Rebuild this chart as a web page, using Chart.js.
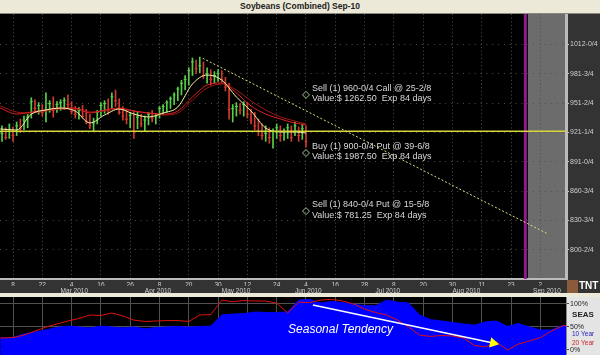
<!DOCTYPE html>
<html lang="en">
<head>
<meta charset="UTF-8">
<title>Soybeans (Combined) Sep-10</title>
<script src="https://cdn.jsdelivr.net/npm/chart.js"></script>
<style>
    body { margin: 0; background: #000; width: 600px; height: 355px; overflow: hidden; position: relative; }
    #title { position: absolute; left: 0; top: 0; width: 600px; height: 13px; background: #ece9d8; border-bottom: 1px solid #8a8a80;
             font: bold 8.5px "Liberation Sans", Arial, sans-serif; color: #222; text-align: center; line-height: 13px; }
    #priceWrap { position: absolute; left: 0; top: 14px; width: 600px; height: 279px; }
    #sep { position: absolute; left: 0; top: 293px; width: 600px; height: 4px; background: #ece9d8; }
    #seasWrap { position: absolute; left: 0; top: 297px; width: 600px; height: 58px; }
</style>
</head>
<body>
<div id="title">Soybeans (Combined) Sep-10</div>
<div id="priceWrap"><canvas id="priceChart" width="600" height="279"></canvas></div>
<div id="sep"></div>
<div id="seasWrap"><canvas id="seasChart" width="600" height="58"></canvas></div>

<script>
// ---- time axis (trading-day index) ----
const xMin = -3.55, xMax = 151.0;
const dayTickIdx = [0, 8, 16, 24, 32, 40, 48, 56, 64, 72, 80, 88, 96, 104, 112, 120, 128, 136, 144];
const dayLabels = ['8', '22', '4', '16', '26', '8', '20', '30', '12', '24', '4', '16', '28', '8', '20', '30', '11', '23', '2'];
const monthIdx = [13, 36, 57, 77, 99, 120, 142];
const monthLabels = ['Mar 2010', 'Apr 2010', 'May 2010', 'Jun 2010', 'Jul 2010', 'Aug 2010', 'Sep 2010'];
const expiryIdx = 139.9;
const shadeFromIdx = 140.6;

// ---- price axis ----
const yMin = 769.9, yMax = 1043.5;
const priceTicks = [1012, 981.75, 951.5, 921.25, 891, 860.75, 830.5, 800.25];
const priceTickLabels = ['1012-0/4', '981-3/4', '951-2/4', '921-1/4', '891-0/4', '860-3/4', '830-3/4', '800-2/4'];

// ---- daily bars, first bar at index -3 ----
const barStart = -3;
const highs = [928, 926, 930, 927, 932, 935, 938, 940, 957, 955, 952, 950, 962, 954, 958, 953, 955, 957, 960, 953,
    948, 947, 949, 945, 940, 936, 944, 952, 954, 956, 962, 965, 956, 948, 944, 942, 944, 942, 940, 938,
    942, 944, 941, 948, 950, 954, 958, 962, 968, 975, 980, 988, 998, 996, 999, 994, 988, 986, 984, 986,
    985, 978, 972, 950, 952, 951, 953, 952, 945, 942, 935, 930, 928, 926, 925, 930, 928, 925, 930, 928,
    932, 927, 930, 928];
const lows = [912, 914, 915, 912, 918, 921, 924, 926, 936, 942, 940, 938, 932, 942, 937, 942, 944, 945, 946, 940,
    936, 935, 936, 930, 925, 922, 930, 938, 941, 940, 946, 948, 940, 934, 930, 926, 915, 925, 927, 922,
    929, 932, 930, 936, 940, 942, 946, 950, 954, 960, 965, 970, 980, 982, 983, 977, 972, 970, 972, 974,
    973, 964, 935, 932, 938, 940, 938, 936, 930, 924, 918, 914, 912, 910, 905, 915, 912, 913, 915, 912,
    918, 912, 914, 906];
const closes = [920, 916, 924, 918, 928, 925, 934, 937, 953, 946, 949, 942, 945, 951, 944, 950, 952, 954, 950, 943,
    940, 944, 938, 933, 928, 931, 942, 949, 951, 944, 958, 954, 942, 938, 935, 939, 922, 937, 930, 934,
    940, 936, 938, 946, 948, 952, 956, 960, 966, 972, 976, 985, 994, 987, 990, 980, 982, 976, 980, 982,
    976, 968, 945, 946, 948, 944, 950, 940, 934, 928, 922, 918, 920, 916, 922, 926, 918, 922, 926, 916,
    928, 918, 925, 912];

// ---- moving averages, read every few bars ----
const maIdx = [-3.5, 1, 5, 9, 13, 17, 21, 25, 29, 33, 37, 41, 45, 49, 53, 57, 61, 65, 69, 73, 77, 80];
const maFast = [924.8, 923.7, 940.2, 944.4, 946.4, 943.3, 931.0, 939.2, 945.4, 940.2, 937.2, 941.3, 947.5, 971.2, 980.5, 975.3, 957.8, 943.3, 925.8, 921.7, 921.7, 920.6];
const maMid = [946.4, 940.2, 942.3, 944.4, 946.4, 946.4, 941.3, 944.4, 946.4, 943.3, 941.3, 940.2, 943.3, 957.8, 970.2, 972.3, 962.0, 948.5, 940.2, 935.1, 930.9, 928.9];
const maSlow = [948.5, 942.3, 941.3, 943.3, 945.4, 945.4, 942.3, 943.3, 945.4, 943.3, 941.3, 939.2, 941.3, 954.7, 967.1, 971.2, 965.0, 953.7, 944.4, 937.2, 933.0, 929.9];

// ---- drawn studies ----
const lastLevel = 922.5;
const trendIdx = [51.8, 145.7];
const trendPrice = [997.8, 817.1];
const optionIdx = 80;
const optionStrikes = [960, 900, 840];
const optionTitles = ['Sell (1) 960-0/4 Call @ 25-2/8', 'Buy (1) 900-0/4 Put @ 39-6/8', 'Sell (1) 840-0/4 Put @ 15-5/8'];
const optionValues = ['Value:$ 1262.50  Exp 84 days', 'Value:$ 1987.50  Exp 84 days', 'Value:$ 781.25  Exp 84 days'];

// ---- seasonal panel (percent) ----
const seasIdx = [-3.5, 0, 3, 6, 9, 12, 15, 18, 21, 24, 27, 30, 33, 36, 39, 42, 45, 48, 51, 54, 57, 60, 63, 66, 69, 72,
    75, 78, 81, 84, 87, 90, 93, 96, 99, 102, 105, 108, 111, 114, 117, 120, 123, 126, 129, 132, 135, 138, 141, 144, 147, 150, 151];
const seas10 = [26, 27, 35, 39, 43.5, 49, 52, 50, 48, 52, 50, 48, 50, 46, 49, 50, 51, 50, 51, 52, 76, 78, 79, 82.5, 81.5, 81.5,
    82.5, 108.5, 110, 102, 105.5, 103, 100, 96, 96, 108.5, 104, 102, 76, 66, 63, 60, 56.5, 54, 61, 63, 51, 57.5, 50, 43.5, 43.5, 53, 54];
const seas20 = [26, 27, 32.5, 41, 50, 56.5, 63, 68.5, 76, 75, 80.5, 74, 65, 62, 63, 64, 64, 62, 76, 77, 108.5, 105, 107.5, 106.5, 106.5, 102,
    80.5, 104, 103, 108.5, 110, 106.5, 100, 89, 81.5, 76, 65, 50, 32.5, 29.5, 31.5, 30.5, 26, 10, 6.5, 17.5, 0, 13, 19.5, 27, 41, 52, 54];
const seasTicks = [0, 50, 100];
const seasTickLabels = ['0%', '50%', '100%'];
const arrowIdx = [81.9, 131.1];
const arrowVal = [97.8, 15.2];
const seasTextIdx = 75.1, seasTextVal = 43.5;

const FONT = '"Liberation Sans", Arial, sans-serif';
Chart.defaults.font.family = FONT;

const GREEN = '#56d04a', RED = '#d23a2e';
const barColors = closes.map((c, k) => (k > 0 && c < closes[k - 1]) ? RED : GREEN);
const pts = (xs, ys) => xs.map((v, k) => ({ x: v, y: ys[k] }));

const pricePanel = {
    id: 'pricePanel',
    beforeDraw(chart) {
        const { ctx, chartArea: a, scales: { x } } = chart;
        ctx.save();
        ctx.fillStyle = '#000';
        ctx.fillRect(0, 0, chart.width, chart.height);
        ctx.fillStyle = '#333';
        ctx.fillRect(a.right, 0, chart.width - a.right, chart.height);
        ctx.fillRect(0, a.bottom, chart.width, chart.height - a.bottom);
        const sx = x.getPixelForValue(shadeFromIdx);
        ctx.fillStyle = '#6c6c6c';
        ctx.fillRect(sx, a.top, a.right - sx, a.bottom - a.top);
        ctx.restore();
    },
    beforeDatasetsDraw(chart) {
        const { ctx, chartArea: a, scales: { x } } = chart;
        const px = x.getPixelForValue(expiryIdx);
        ctx.save();
        ctx.strokeStyle = '#8e1a8e';
        ctx.lineWidth = 3;
        ctx.beginPath();
        ctx.moveTo(px, a.top);
        ctx.lineTo(px, a.bottom);
        ctx.stroke();
        ctx.restore();
    },
    afterDatasetsDraw(chart) {
        const { ctx, scales: { x, y } } = chart;
        ctx.save();
        ctx.font = '9px ' + FONT;
        ctx.fillStyle = '#d8d8d8';
        ctx.textBaseline = 'middle';
        optionStrikes.forEach((s, k) => {
            const px = x.getPixelForValue(optionIdx) + 6;
            const py = y.getPixelForValue(s);
            ctx.fillText(optionTitles[k], px, py - 6.5);
            ctx.fillText(optionValues[k], px, py + 4);
        });
        ctx.restore();
    },
    afterDraw(chart) {
        const { ctx, chartArea: a } = chart;
        ctx.save();
        ctx.fillStyle = '#8a5a3a';
        ctx.fillRect(a.right + 1, a.bottom + 1, 11, 13);
        ctx.font = 'bold 10px ' + FONT;
        ctx.fillStyle = '#fff';
        ctx.textBaseline = 'middle';
        ctx.fillText('TNT', a.right + 13, a.bottom + 7.5);
        ctx.restore();
    }
};

new Chart(document.getElementById('priceChart'), {
    type: 'bar',
    data: {
        datasets: [
            { type: 'scatter', data: optionStrikes.map(s => ({ x: optionIdx, y: s })), pointStyle: 'rectRot',
              pointRadius: 3.5, borderColor: '#a0c890', backgroundColor: 'rgba(0,0,0,0)', borderWidth: 1, order: 0 },
            { type: 'line', data: pts(trendIdx, trendPrice), borderColor: '#dede80', borderWidth: 1,
              borderDash: [2, 2], pointRadius: 0, order: 1 },
            { type: 'line', data: pts([xMin, xMax], [lastLevel, lastLevel]), borderColor: '#d6d63a',
              borderWidth: 1.5, pointRadius: 0, order: 2 },
            { type: 'line', data: pts(maIdx, maFast), borderColor: '#f2f2a8', borderWidth: 1, pointRadius: 0,
              cubicInterpolationMode: 'monotone', order: 3 },
            { type: 'line', data: pts(maIdx, maMid), borderColor: '#e02020', borderWidth: 1, pointRadius: 0,
              cubicInterpolationMode: 'monotone', order: 4 },
            { type: 'line', data: pts(maIdx, maSlow), borderColor: '#a01818', borderWidth: 1, pointRadius: 0,
              cubicInterpolationMode: 'monotone', order: 5 },
            { type: 'scatter', data: closes.map((c, k) => ({ x: barStart + k, y: c })), pointStyle: 'line',
              pointRadius: 1.5, borderWidth: 1, pointBorderColor: barColors, order: 6 },
            { type: 'bar', data: highs.map((h, k) => ({ x: barStart + k, y: [lows[k], h] })),
              backgroundColor: barColors, barThickness: 1, order: 7 }
        ]
    },
    options: {
        responsive: false,
        animation: false,
        devicePixelRatio: 1,
        layout: { padding: 0, autoPadding: false },
        plugins: { legend: { display: false }, tooltip: { enabled: false } },
        scales: {
            x: {
                type: 'linear', position: 'bottom', min: xMin, max: xMax, offset: false, weight: 0,
                afterBuildTicks: ax => { ax.ticks = dayTickIdx.map(v => ({ value: v })); },
                afterFit: ax => { ax.height = 7; ax.paddingLeft = 0; ax.paddingRight = 0; },
                ticks: { color: '#cfcfcf', font: { size: 6.5 }, padding: 2, maxRotation: 0, autoSkip: false,
                         callback: (v, i) => dayLabels[i] },
                grid: { color: '#505050', drawTicks: false, offset: false },
                border: { color: '#bbb', width: 2, dash: [1, 2.66] }
            },
            x2: {
                type: 'linear', position: 'bottom', min: xMin, max: xMax, offset: false, weight: 1,
                afterBuildTicks: ax => { ax.ticks = monthIdx.map(v => ({ value: v })); },
                afterFit: ax => { ax.height = 7; ax.paddingLeft = 0; ax.paddingRight = 0; },
                ticks: { color: '#cfcfcf', font: { size: 6.5 }, padding: 1, maxRotation: 0, autoSkip: false,
                         align: 'start', callback: (v, i) => monthLabels[i] },
                grid: { display: false, drawTicks: false, offset: false },
                border: { display: false }
            },
            y: {
                type: 'linear', position: 'right', min: yMin, max: yMax,
                afterBuildTicks: ax => { ax.ticks = priceTicks.map(v => ({ value: v })); },
                afterFit: ax => { ax.width = 34; ax.paddingTop = 0; ax.paddingBottom = 0; },
                ticks: { color: '#cfcfcf', font: { size: 7 }, padding: 1, autoSkip: false,
                         callback: (v, i) => priceTickLabels[i] },
                grid: { color: '#505050', tickLength: 3, tickColor: '#ccc' },
                border: { color: '#bbb', width: 3, dash: [1, 4.86] }
            }
        }
    },
    plugins: [pricePanel]
});

const seasPanel = {
    id: 'seasPanel',
    beforeDraw(chart) {
        const { ctx, chartArea: a } = chart;
        ctx.save();
        ctx.fillStyle = '#000';
        ctx.fillRect(0, 0, chart.width, chart.height);
        ctx.fillStyle = '#e4e4e4';
        ctx.fillRect(a.right, 0, chart.width - a.right, chart.height);
        ctx.restore();
    },
    afterDatasetsDraw(chart) {
        const { ctx, scales: { x, y } } = chart;
        ctx.save();
        ctx.font = 'italic 12px ' + FONT;
        ctx.fillStyle = '#fff';
        ctx.textBaseline = 'middle';
        ctx.fillText('Seasonal Tendency', x.getPixelForValue(seasTextIdx), y.getPixelForValue(seasTextVal));
        ctx.restore();
    },
    afterDraw(chart) {
        const { ctx, chartArea: a } = chart;
        ctx.save();
        ctx.textBaseline = 'middle';
        ctx.textAlign = 'center';
        ctx.font = 'bold 8px ' + FONT;
        ctx.fillStyle = '#222';
        ctx.fillText('SEAS', a.right + 17, 18);
        ctx.textAlign = 'left';
        ctx.font = '6.5px ' + FONT;
        ctx.fillStyle = '#2525c0';
        ctx.fillText('10 Year', a.right + 6, 37);
        ctx.fillStyle = '#d02020';
        ctx.fillText('20 Year', a.right + 6, 46);
        ctx.restore();
    }
};

new Chart(document.getElementById('seasChart'), {
    type: 'line',
    data: {
        datasets: [
            { data: pts(arrowIdx, arrowVal), borderColor: '#fff', borderWidth: 1.5, order: 0,
              pointRadius: [0, 4.5], pointStyle: 'triangle', pointBackgroundColor: '#ffff00', pointBorderColor: '#ffff00',
              pointRotation: c => {
                  const { x, y } = c.chart.scales;
                  const dx = x.getPixelForValue(arrowIdx[1]) - x.getPixelForValue(arrowIdx[0]);
                  const dy = y.getPixelForValue(arrowVal[1]) - y.getPixelForValue(arrowVal[0]);
                  return Math.atan2(dy, dx) * 180 / Math.PI + 90;
              } },
            { data: pts(seasIdx, seas20), borderColor: '#e01010', borderWidth: 1, pointRadius: 0, order: 1 },
            { data: pts(seasIdx, seas10), borderColor: '#0000ff', backgroundColor: '#0000ff', borderWidth: 1,
              pointRadius: 0, fill: 'start', order: 2 }
        ]
    },
    options: {
        responsive: false,
        animation: false,
        devicePixelRatio: 1,
        layout: { padding: 0, autoPadding: false },
        plugins: { legend: { display: false }, tooltip: { enabled: false } },
        scales: {
            x: {
                type: 'linear', min: xMin, max: xMax,
                afterBuildTicks: ax => { ax.ticks = dayTickIdx.map(v => ({ value: v })); },
                afterFit: ax => { ax.height = 0; ax.paddingLeft = 0; ax.paddingRight = 0; },
                ticks: { display: false },
                grid: { color: '#505050', drawTicks: false },
                border: { display: false }
            },
            y: {
                type: 'linear', position: 'right', min: -10.9, max: 115.2,
                afterBuildTicks: ax => { ax.ticks = seasTicks.map(v => ({ value: v })); },
                afterFit: ax => { ax.width = 34; ax.paddingTop = 0; ax.paddingBottom = 0; },
                ticks: { color: '#222', font: { size: 7 }, padding: 1, autoSkip: false,
                         callback: (v, i) => seasTickLabels[i] },
                grid: { color: '#505050', tickLength: 3, tickColor: '#444' },
                border: { color: '#888' }
            }
        }
    },
    plugins: [seasPanel]
});
</script>
</body>
</html>
